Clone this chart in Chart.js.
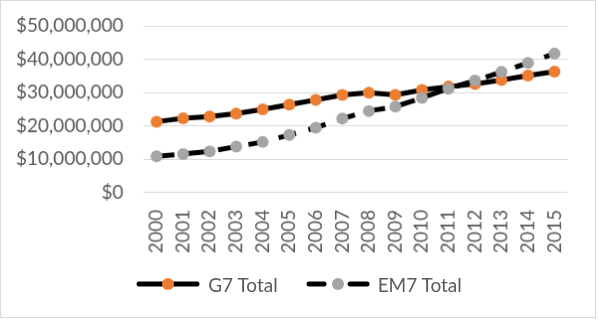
<!DOCTYPE html>
<html>
<head>
<meta charset="utf-8">
<script src="https://cdn.jsdelivr.net/npm/chart.js@4"></script>
<style>
  body { margin: 0; background: #fff; }
  #wrap { position: relative; width: 598px; height: 320px; }
  #chart { display: block; border: 1px solid #d9d9d9; }
  #legend {
    position: absolute; left: 0; right: 0; top: 272px; height: 24px;
    display: flex; justify-content: center; align-items: center;
    font: 19px Lato; color: #595959;
  }
  .item { display: flex; align-items: center; margin: 0 14px; }
  .item canvas { margin-right: 8px; }
</style>
</head>
<body>
<div id="wrap">
  <canvas id="chart" width="596" height="318"></canvas>
  <div id="legend"></div>
</div>
<script>
const years = ["2000", "2001", "2002", "2003", "2004", "2005", "2006", "2007",
    "2008", "2009", "2010", "2011", "2012", "2013", "2014", "2015"];

const g7Total = [21300000, 22300000, 22800000, 23700000, 25000000, 26400000, 27800000, 29300000,
    30000000, 29300000, 30800000, 31800000, 32600000, 33800000, 35100000, 36300000];

const em7Total = [10900000, 11600000, 12400000, 13800000, 15200000, 17300000, 19500000, 22200000,
    24500000, 25800000, 28400000, 31200000, 33600000, 36200000, 38900000, 41700000];

const yTicks = [0, 10000000, 20000000, 30000000, 40000000, 50000000];

const textColor = "#595959";
const font = { family: "Lato", size: 19 };

// legend swatch: black line with the marker in the middle
function swatch(color, dashed) {
    const c = document.createElement("canvas");
    c.width = 64;
    c.height = 14;
    const g = c.getContext("2d");
    g.strokeStyle = "#000";
    g.lineWidth = 5;
    g.lineCap = "round";
    if (dashed) {
        g.beginPath(); g.moveTo(3, 7); g.lineTo(18, 7); g.stroke();
        g.beginPath(); g.moveTo(44, 7); g.lineTo(61, 7); g.stroke();
    } else {
        g.beginPath(); g.moveTo(3, 7); g.lineTo(61, 7); g.stroke();
    }
    g.fillStyle = color;
    g.beginPath(); g.arc(32, 7, 6, 0, Math.PI * 2); g.fill();
    return c;
}

const chart = new Chart(document.getElementById("chart"), {
    type: "line",
    data: {
        labels: years,
        datasets: [
            {
                label: "G7 Total",
                data: g7Total,
                borderColor: "#000",
                borderWidth: 5,
                pointBackgroundColor: "#ED7D31",
                pointBorderColor: "#ED7D31",
                pointRadius: 6,
                pointBorderWidth: 0,
                tension: 0,
                order: 1,
            },
            {
                label: "EM7 Total",
                data: em7Total,
                borderColor: "#000",
                borderWidth: 5,
                borderDash: [18, 13],
                pointBackgroundColor: "#A5A5A5",
                pointBorderColor: "#A5A5A5",
                pointRadius: 6,
                pointBorderWidth: 0,
                tension: 0,
                order: 0,
            },
        ],
    },
    options: {
        responsive: false,
        animation: false,
        layout: { padding: { left: -5, right: 26, top: 25, bottom: 47 } },
        scales: {
            x: {
                offset: true,
                grid: { display: false, drawTicks: false },
                border: { display: false },
                ticks: {
                    color: textColor, font: font, autoSkip: false,
                    minRotation: 90, maxRotation: 90, padding: 17,
                },
            },
            y: {
                min: 0,
                max: 50000000,
                afterBuildTicks: (axis) => { axis.ticks = yTicks.map((v) => ({ value: v })); },
                grid: { color: "#d9d9d9", lineWidth: 1, drawTicks: false },
                border: { display: false },
                ticks: {
                    color: textColor,
                    font: font,
                    padding: 20,
                    callback: (v) => "$" + Number(v).toLocaleString("en-US"),
                },
                afterFit: (axis) => { axis.paddingTop = 0; axis.paddingBottom = 0; },
            },
        },
        plugins: {
            tooltip: { enabled: false },
            legend: { display: false },
        },
    },
});

// html legend built from the datasets
const legendEl = document.getElementById("legend");
chart.data.datasets.forEach((ds) => {
    const item = document.createElement("div");
    item.className = "item";
    item.appendChild(swatch(ds.pointBackgroundColor, !!ds.borderDash));
    const span = document.createElement("span");
    span.textContent = ds.label;
    item.appendChild(span);
    legendEl.appendChild(item);
});
</script>
</body>
</html>
